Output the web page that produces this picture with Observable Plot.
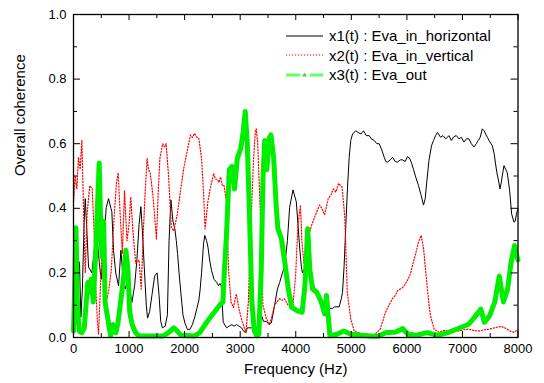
<!DOCTYPE html>
<html>
<head>
<meta charset="utf-8">
<script src="https://cdn.jsdelivr.net/npm/d3@7"></script>
<script src="https://cdn.jsdelivr.net/npm/@observablehq/plot@0.6"></script>
<style>
  html, body { margin: 0; padding: 0; background: #fff; }
  #wrap { position: relative; width: 544px; height: 383px; font-family: "Liberation Sans", Arial, sans-serif; }
  #legend { position: absolute; left: 286px; top: 26px; font-size: 15px; color: #000; }
  #legend .row { display: flex; align-items: center; height: 19.5px; white-space: nowrap; }
  #legend svg { margin-right: 5px; }
</style>
</head>
<body>
<div id="wrap"></div>
<script>
// ---- data ----
const seriesNames = ["x1(t) : Eva_in_horizontal", "x2(t) : Eva_in_vertical", "x3(t) : Eva_out"];
const xTicksMajor = [0, 1000, 2000, 3000, 4000, 5000, 6000, 7000, 8000];
const xTicksMinor = [500, 1500, 2500, 3500, 4500, 5500, 6500, 7500];
const yTicksMajor = [0, 0.2, 0.4, 0.6, 0.8, 1.0];
const yTicksMinor = [0.1, 0.3, 0.5, 0.7, 0.9];
const xLabel = "Frequency (Hz)";
const yLabel = "Overall coherence";

const x1Freq = [0,30,60,90,108,133,160,190,211,235,271,331,373,409,440,470,500,529,560,589,631,673,690,720,760,811,853,889,931,980,1020,1051,1100,1141,1180,1213,1240,1273,1310,1333,1370,1411,1460,1505,1540,1570,1600,1650,1690,1720,1753,1790,1825,1850,1873,1900,1933,1970,2005,2050,2095,2140,2185,2220,2257,2280,2305,2340,2364,2395,2420,2450,2485,2530,2575,2610,2636,2660,2695,2755,2800,2850,2890,2935,2980,3025,3060,3097,3130,3200,3280,3330,3380,3420,3470,3520,3560,3620,3670,3710,3760,3800,3850,3890,3950,4010,4040,4070,4100,4120,4150,4180,4220,4250,4310,4360,4400,4460,4520,4560,4610,4660,4700,4782,4820,4842,4870,4902,4930,4962,4990,5022,5080,5120,5172,5220,5270,5322,5360,5412,5460,5502,5550,5592,5620,5652,5700,5742,5790,5832,5880,5922,5970,6012,6050,6084,6120,6162,6210,6252,6300,6330,6349,6397,6444,6480,6516,6550,6606,6650,6700,6757,6800,6847,6890,6937,6980,7027,7070,7117,7160,7207,7250,7285,7320,7357,7390,7417,7450,7477,7537,7570,7597,7620,7645,7675,7700,7717,7747,7780,7807,7849,7885,7927,7950,7969,8000];
const x1Coh = [0.02,0.05,0.15,0.238,0.23,0.063,0.15,0.35,0.43,0.35,0.218,0.2,0.27,0.31,0.28,0.22,0.18,0.25,0.33,0.403,0.43,0.40,0.39,0.27,0.2,0.16,0.27,0.19,0.15,0.18,0.14,0.109,0.16,0.24,0.35,0.405,0.33,0.22,0.1,0.06,0.08,0.13,0.19,0.2,0.13,0.05,0.03,0.035,0.07,0.3,0.426,0.36,0.335,0.3,0.26,0.2,0.137,0.07,0.045,0.025,0.025,0.04,0.065,0.09,0.116,0.15,0.2,0.29,0.316,0.3,0.28,0.24,0.207,0.18,0.171,0.16,0.167,0.16,0.047,0.03,0.035,0.04,0.035,0.04,0.035,0.03,0.02,0.015,0.03,0.03,0.025,0.04,0.07,0.05,0.05,0.04,0.045,0.1,0.15,0.17,0.2,0.22,0.3,0.403,0.457,0.42,0.35,0.28,0.22,0.2,0.21,0.23,0.22,0.21,0.17,0.14,0.12,0.1,0.08,0.09,0.09,0.09,0.095,0.095,0.12,0.14,0.22,0.35,0.46,0.558,0.61,0.63,0.64,0.635,0.63,0.64,0.625,0.625,0.615,0.61,0.6,0.6,0.58,0.558,0.545,0.543,0.55,0.558,0.545,0.543,0.55,0.55,0.545,0.56,0.555,0.54,0.52,0.495,0.47,0.443,0.41,0.43,0.466,0.548,0.594,0.61,0.625,0.635,0.62,0.625,0.615,0.625,0.61,0.622,0.625,0.615,0.62,0.605,0.615,0.615,0.6,0.59,0.6,0.61,0.62,0.646,0.64,0.63,0.62,0.61,0.594,0.57,0.537,0.51,0.49,0.46,0.48,0.5,0.532,0.52,0.51,0.456,0.383,0.357,0.36,0.38,0.4];

const x2Freq = [0,30,60,90,120,151,180,212,243,293,337,368,400,430,450,493,525,556,587,630,680,730,774,805,840,880,918,962,1000,1030,1070,1118,1180,1218,1255,1290,1324,1350,1380,1430,1493,1525,1555,1605,1640,1667,1711,1761,1805,1867,1930,1980,2055,2105,2140,2180,2220,2255,2305,2340,2368,2418,2460,2523,2555,2585,2620,2648,2680,2710,2754,2791,2835,2879,2929,2979,3020,3054,3104,3147,3180,3210,3240,3272,3289,3316,3366,3409,3470,3529,3560,3620,3660,3710,3760,3800,3860,3950,4000,4040,4085,4110,4147,4190,4240,4290,4334,4380,4428,4470,4521,4584,4630,4678,4720,4771,4834,4884,4927,4990,5052,5177,5300,5427,5520,5614,5680,5739,5790,5833,5880,5926,5970,6020,6070,6114,6160,6208,6258,6301,6330,6364,6400,6426,6489,6582,6650,6738,6830,6926,7020,7113,7200,7300,7400,7488,7580,7675,7740,7800,7860,7925,7960,8000];
const x2Coh = [0.42,0.5,0.46,0.558,0.52,0.61,0.4,0.2,0.38,0.47,0.46,0.34,0.16,0.05,0.01,0.19,0.3,0.2,0.11,0.14,0.21,0.37,0.48,0.51,0.38,0.26,0.455,0.3,0.35,0.435,0.33,0.23,0.24,0.15,0.32,0.45,0.555,0.52,0.51,0.44,0.305,0.45,0.555,0.6,0.59,0.6,0.5,0.34,0.33,0.38,0.46,0.52,0.585,0.627,0.62,0.632,0.62,0.617,0.555,0.45,0.337,0.42,0.46,0.508,0.49,0.49,0.48,0.497,0.47,0.47,0.42,0.21,0.11,0.093,0.135,0.088,0.06,0.04,0.015,0.11,0.28,0.42,0.55,0.637,0.646,0.6,0.37,0.1,0.06,0.04,0.06,0.1,0.11,0.12,0.115,0.12,0.1,0.1,0.2,0.35,0.41,0.3,0.23,0.28,0.32,0.35,0.37,0.39,0.41,0.4,0.38,0.43,0.44,0.46,0.45,0.477,0.466,0.37,0.14,0.057,0.02,0.012,0.01,0.01,0.026,0.078,0.1,0.12,0.13,0.145,0.15,0.155,0.165,0.18,0.2,0.233,0.26,0.295,0.316,0.275,0.22,0.16,0.1,0.067,0.026,0.016,0.022,0.02,0.025,0.02,0.024,0.026,0.022,0.02,0.024,0.026,0.03,0.034,0.032,0.026,0.02,0.016,0.02,0.024];

const x3Freq = [0,20,44,69,90,106,150,194,225,256,293,318,356,380,400,430,462,493,515,543,568,618,668,712,762,800,855,899,943,980,1012,1055,1118,1180,1430,1617,1711,1805,1867,1930,2180,2273,2368,2460,2554,2648,2690,2710,2754,2804,2854,2898,2948,3010,3054,3091,3129,3166,3210,3254,3304,3335,3379,3410,3441,3479,3522,3553,3603,3647,3678,3741,3803,3866,3928,4022,4115,4165,4215,4253,4303,4378,4459,4521,4553,4584,4615,4740,4865,4990,5177,5365,5490,5614,5801,5926,6020,6176,6364,6551,6738,6926,7113,7238,7332,7395,7488,7582,7663,7738,7813,7876,7938,7975,8000];
const x3Coh = [0.02,0.15,0.34,0.11,0.05,0.02,0.015,0.03,0.1,0.17,0.14,0.18,0.11,0.2,0.26,0.4,0.54,0.32,0.25,0.36,0.11,0.057,0.005,0.04,0.015,0.045,0.12,0.18,0.27,0.21,0.078,0.04,0.015,0.005,0.005,0.005,0.015,0.03,0.02,0.007,0.005,0.015,0.04,0.062,0.083,0.104,0.11,0.19,0.32,0.52,0.53,0.46,0.554,0.585,0.637,0.7,0.596,0.39,0.11,0.02,0.005,0.01,0.21,0.49,0.61,0.52,0.617,0.627,0.555,0.41,0.337,0.306,0.233,0.15,0.093,0.083,0.078,0.16,0.337,0.21,0.15,0.14,0.11,0.073,0.13,0.067,0.005,0.01,0.02,0.01,0.007,0.004,0.004,0.015,0.017,0.028,0.01,0.007,0.015,0.007,0.015,0.028,0.041,0.067,0.088,0.047,0.067,0.11,0.19,0.11,0.15,0.233,0.285,0.254,0.24];

// ---- tables built from the arrays ----
const toRows = (fs, vs) => fs.map((f, i) => ({f, v: vs[i]}));
const x1 = toRows(x1Freq, x1Coh);
const x2 = toRows(x2Freq, x2Coh);
const x3 = toRows(x3Freq, x3Coh);

const W = 544, H = 383;
const mT = 14, mR = 26.5, mB = 46, mL = 73;
const pw = W - mL - mR, ph = H - mT - mB;
const font = "Liberation Sans, Arial, sans-serif";

const chart = Plot.plot({
  width: W, height: H,
  marginTop: mT, marginRight: mR, marginBottom: mB, marginLeft: mL,
  style: {fontFamily: font, fontSize: "13px", color: "#000", background: "#fff", overflow: "visible"},
  x: {domain: [0, 8000]},
  y: {domain: [0, 1]},
  marks: [
    // lines
    Plot.line(x1, {x: "f", y: "v", stroke: "#000", strokeWidth: 1}),
    Plot.line(x2, {x: "f", y: "v", stroke: "#ff0000", strokeWidth: 1.2, strokeDasharray: "1.2,1.8"}),
    Plot.line(x3, {x: "f", y: "v", stroke: "#00ee00", strokeWidth: 5, strokeLinejoin: "round"}),
    // inward ticks: bottom/top
    Plot.ruleX(xTicksMajor, {x: d => d, insetTop: ph - 6, stroke: "#000"}),
    Plot.ruleX(xTicksMajor, {x: d => d, insetBottom: ph - 6, stroke: "#000"}),
    Plot.ruleX(xTicksMinor, {x: d => d, insetTop: ph - 4, stroke: "#000"}),
    Plot.ruleX(xTicksMinor, {x: d => d, insetBottom: ph - 4, stroke: "#000"}),
    // inward ticks: left/right
    Plot.ruleY(yTicksMajor, {y: d => d, insetRight: pw - 7, stroke: "#000"}),
    Plot.ruleY(yTicksMajor, {y: d => d, insetLeft: pw - 7, stroke: "#000"}),
    Plot.ruleY(yTicksMinor, {y: d => d, insetRight: pw - 4, stroke: "#000"}),
    Plot.ruleY(yTicksMinor, {y: d => d, insetLeft: pw - 4, stroke: "#000"}),
    Plot.frame({stroke: "#000", strokeWidth: 1.3}),
    // tick labels
    Plot.axisX({ticks: xTicksMajor, tickSize: 0, tickPadding: 6, tickFormat: d => String(d), label: null, fontSize: 13}),
    Plot.axisY({ticks: yTicksMajor, tickSize: 0, tickPadding: 7, tickFormat: d3.format(".1f"), label: null, fontSize: 13}),
    // axis titles
    Plot.text([xLabel], {text: d => d, frameAnchor: "bottom", dy: 36, fontSize: 15, fill: "#000"}),
    Plot.text([yLabel], {text: d => d, frameAnchor: "left", rotate: -90, dx: -53, fontSize: 15, fill: "#000"})
  ]
});

const wrap = document.getElementById("wrap");
wrap.appendChild(chart);

// ---- legend (HTML overlay, top-right inside the frame) ----
const legendStyles = [
  {stroke: "#000", width: 1, dash: null, tri: false},
  {stroke: "#ff0000", width: 1.2, dash: "1.2,1.8", tri: false},
  {stroke: "#66ff66", width: 3, dash: "14,10", tri: true}
];
const legend = document.createElement("div");
legend.id = "legend";
seriesNames.forEach((name, i) => {
  const s = legendStyles[i];
  const row = document.createElement("div");
  row.className = "row";
  const ns = "http://www.w3.org/2000/svg";
  const svg = document.createElementNS(ns, "svg");
  svg.setAttribute("width", 38); svg.setAttribute("height", 10);
  const ln = document.createElementNS(ns, "line");
  ln.setAttribute("x1", 0); ln.setAttribute("x2", 37);
  ln.setAttribute("y1", 5); ln.setAttribute("y2", 5);
  ln.setAttribute("stroke", s.stroke);
  ln.setAttribute("stroke-width", s.width);
  if (s.dash) ln.setAttribute("stroke-dasharray", s.dash);
  svg.appendChild(ln);
  if (s.tri) {
    const p = document.createElementNS(ns, "path");
    p.setAttribute("d", "M18.5,2.5 L21,6.5 L16,6.5 Z");
    p.setAttribute("fill", "#33dd33");
    svg.appendChild(p);
  }
  row.appendChild(svg);
  const t = document.createElement("span");
  t.textContent = name;
  row.appendChild(t);
  legend.appendChild(row);
});
wrap.appendChild(legend);
</script>
</body>
</html>
